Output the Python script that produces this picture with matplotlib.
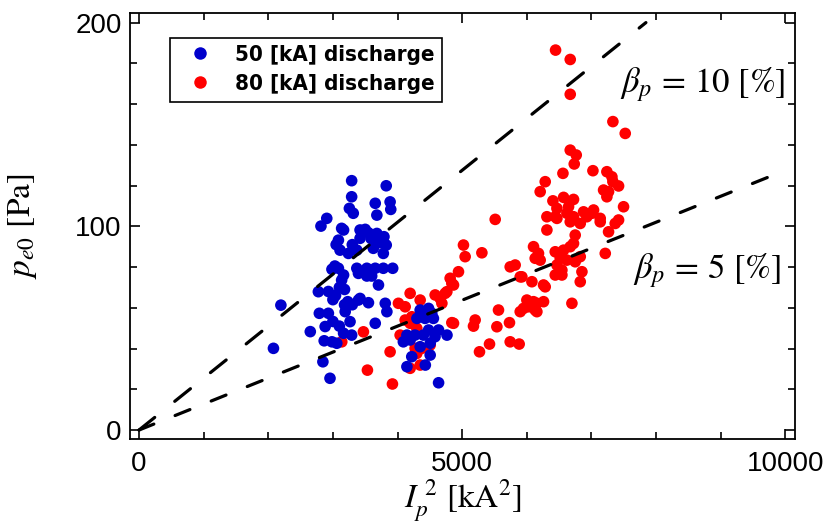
import numpy as np
import matplotlib
matplotlib.use("Agg")
import matplotlib.pyplot as plt
from matplotlib.lines import Line2D

# 50 kA discharges: Ip^2 [kA^2], pe0 [Pa]
ip2_50 = [3290, 3825, 3290, 3655, 3885, 3895, 3255, 3315, 3680, 2905, 2815, 3135,
          3420, 3550, 3680, 3790, 3825, 3780, 3420, 3625, 3370, 3240, 3110, 3085,
          3165, 3500, 3590, 3720, 3300, 3050,
          3370, 3525, 3655, 3780, 3925, 3395, 3525, 3600, 3705, 2985, 3085, 3165,
          3135, 3030,
          2775, 2930, 3040, 3100, 3180, 3000, 3230, 3300, 3395, 3550, 3810, 3835,
          3420, 3180,
          2790, 2930, 3000, 2880, 3190, 3265, 3655, 3165, 3290, 2650, 2985, 2865,
          3060, 3100,
          2195, 2080, 2845, 2955,
          4350, 4480, 4530, 4555, 4425, 4300, 4480, 4400, 4270, 4145, 4090, 4195,
          4350, 4505, 4635, 4765, 4580, 4220, 4505, 4145, 4430, 4635]
pe0_50 = [122.4, 119.9, 114.5, 111.3, 112.0, 108.3, 108.8, 106.4, 105.5, 103.9, 100.1, 99.0,
          98.2, 96.8, 96.5, 94.9, 90.8, 86.7, 94.1, 89.2, 88.3, 86.7, 88.3, 93.2,
          98.2, 98.5, 94.0, 92.0, 91.0, 91.0,
          79.4, 79.4, 79.4, 79.4, 79.4, 76.9, 75.6, 75.6, 71.2, 78.9, 79.4, 76.1,
          73.6, 80.5,
          67.9, 68.0, 66.0, 70.0, 69.0, 64.0, 63.0, 61.5, 63.8, 62.5, 62.2, 58.1,
          64.6, 61.5,
          57.3, 57.3, 53.3, 50.8, 58.1, 53.2, 52.4, 47.5, 46.6, 48.3, 43.3, 43.8,
          42.6, 51.0,
          61.3, 40.1, 33.5, 25.4,
          58.9, 59.7, 57.3, 54.8, 54.8, 54.8, 49.1, 46.6, 46.6, 46.6, 43.3, 44.2,
          40.9, 42.6, 49.1, 46.6, 45.8, 36.0, 36.8, 31.1, 31.9, 23.2]

# 80 kA discharges: Ip^2 [kA^2], pe0 [Pa]
ip2_80 = [6445, 6672, 6672, 7332, 7523, 6672, 6765, 6734, 6559, 7023, 7239, 7317,
          7332, 7420, 7188, 7265, 7239, 7497, 6285, 6207,
          6404, 6569, 6723, 6466, 6646, 6620, 6723, 6311, 6440, 6878, 7033, 6929, 7136,
          6466, 6672, 6827, 7007, 7136, 7265, 7368, 7420, 6311,
          6749, 6723, 6672, 6569, 6440, 6517, 6620, 6749, 6827, 7214,
          6104, 6181, 6207, 6130,
          6466, 6543, 6440, 6543, 6853, 6827,
          5924, 6079, 6259, 6285,
          6001, 6104, 6259, 6027, 6130, 5949, 6698, 6156, 5898, 6156,
          5511, 5020, 5046, 5305, 5743, 5820, 5898,
          4943, 4814, 4866, 4763, 4659, 5562, 5201, 5175, 4866, 5537, 5732, 5423,
          5268, 5743, 5882,
          4840, 4737, 4582, 4686, 4195, 4350, 4014, 4118, 4221, 4195, 4298, 4118,
          4840, 4040, 4272, 4376, 4505, 4298, 4350, 4195, 3885, 3472, 3137, 3534, 3921]
pe0_80 = [186.5, 181.9, 164.8, 151.4, 145.6, 137.4, 135.0, 130.6, 126.0, 127.3, 126.8, 124.3,
          121.9, 119.8, 117.8, 117.0, 114.5, 109.6, 121.9, 117.0,
          112.5, 114.2, 113.2, 108.8, 109.6, 106.4, 104.7, 104.7, 104.7, 107.1, 108.0, 104.7, 103.9,
          103.9, 102.2, 101.4, 106.4, 102.2, 97.3, 101.4, 103.1, 98.2,
          95.7, 91.6, 90.0, 88.3, 87.5, 84.3, 83.4, 82.6, 85.1, 86.7,
          90.0, 86.7, 83.4, 84.3,
          81.0, 78.5, 76.1, 76.1, 77.7, 72.8,
          75.2, 72.8, 71.2, 70.3,
          63.8, 63.0, 63.0, 60.5, 58.9, 59.7, 62.2, 62.2, 58.1, 58.1,
          103.4, 90.8, 85.1, 87.0, 80.1, 81.0, 75.2,
          77.7, 74.5, 71.2, 67.9, 64.6, 58.9, 54.0, 51.0, 52.4, 50.7, 52.7, 42.2,
          38.4, 43.3, 42.2,
          72.0, 67.1, 66.3, 62.2, 67.1, 63.8, 62.2, 60.5, 55.6, 52.4, 49.9, 54.0,
          52.7, 46.6, 40.1, 40.1, 41.7, 37.6, 31.9, 30.3, 38.4, 48.2, 43.3, 29.4, 22.6]

# poloidal beta reference lines: pe0 = k * beta[%] * Ip^2
beta_values = [10, 5]
k_beta = 2.55e-3
ip2_max = 10000
pe0_top = 200

plt.rcParams["mathtext.fontset"] = "stix"
plt.rcParams["lines.scale_dashes"] = False

fig = plt.figure(figsize=(8.31, 5.25), dpi=100)
ax = fig.add_axes([0.1564, 0.1646, 0.8003, 0.8106])

ax.scatter(ip2_80, pe0_80, s=70, color="#ff0000", edgecolors="none", zorder=3)
ax.scatter(ip2_50, pe0_50, s=70, color="#0000cc", edgecolors="none", zorder=4)

dash_styles = {10: (14.5, 18.5), 5: (11.5, 16.5)}
for b in beta_values:
    slope = k_beta * b
    x_end = min(ip2_max, pe0_top / slope)
    xs = np.array([0.0, x_end])
    ax.plot(xs, slope * xs, color="black", lw=2.3, dashes=dash_styles[b],
            dash_capstyle="round", zorder=5)

ax.annotate(r"$\beta_p$ = 10 [%]", xy=(0.737, 0.833), xycoords="axes fraction",
            fontsize=25, family="STIXGeneral", ha="left", va="center")
ax.annotate(r"$\beta_p$ = 5 [%]", xy=(0.756, 0.396), xycoords="axes fraction",
            fontsize=25, family="STIXGeneral", ha="left", va="center")

ax.set_xlim(-140, 10150)
ax.set_ylim(-4.2, 204.7)
ax.set_xticks([0, 5000, 10000])
ax.set_xticks(np.arange(0, 10001, 1000), minor=True)
ax.set_yticks([0, 100, 200])
ax.set_yticks(np.arange(0, 201, 20), minor=True)
ax.tick_params(which="both", direction="in", top=True, right=True, width=1.2,
               labelsize=20, color="black")
ax.tick_params(which="major", length=7)
ax.tick_params(which="minor", length=5)
ax.tick_params(axis="x", pad=9)
ax.tick_params(axis="y", pad=6)
for lab in ax.get_xticklabels() + ax.get_yticklabels():
    lab.set_family("Liberation Sans")
for sp in ax.spines.values():
    sp.set_linewidth(1.3)

ax.set_xlabel(r"$I_p^{\ 2}$ [kA$^2$]", fontsize=24, family="STIXGeneral", labelpad=0)
ax.set_ylabel(r"$p_{e0}$ [Pa]", fontsize=24, family="STIXGeneral", labelpad=26)

handles = [Line2D([], [], ls="none", marker="o", ms=9, color="#0000cc", mec="none"),
           Line2D([], [], ls="none", marker="o", ms=9, color="#ff0000", mec="none")]
leg = ax.legend(handles, ["50 [kA] discharge", "80 [kA] discharge"],
                loc="upper left", bbox_to_anchor=(0.0595, 0.9424), borderaxespad=0,
                fancybox=False, framealpha=1, edgecolor="black",
                prop={"family": "DejaVu Sans", "size": 16, "weight": "bold",
                      "stretch": "condensed"},
                handletextpad=0.55, labelspacing=0.42, borderpad=0.33, handlelength=2.05)
leg.get_frame().set_linewidth(1.2)

fig.savefig("out.png", dpi=100)
